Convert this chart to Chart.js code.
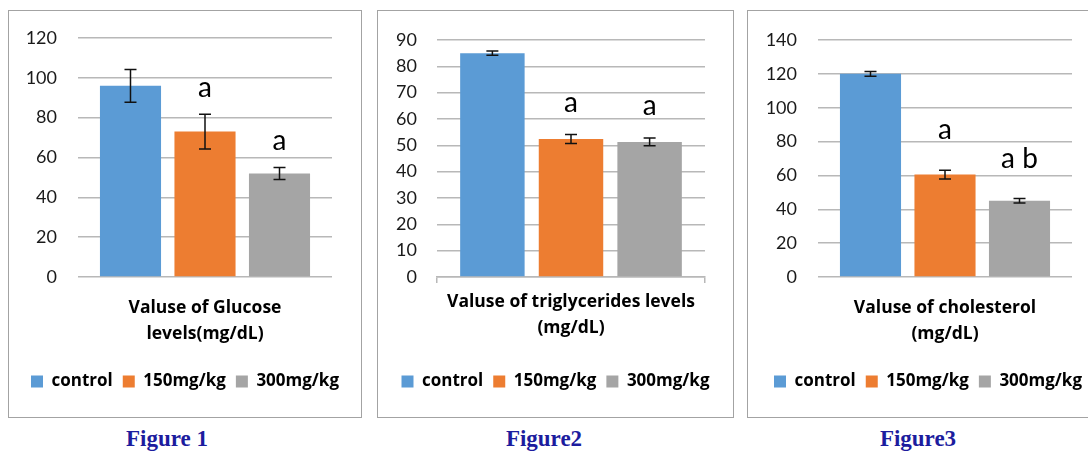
<!DOCTYPE html>
<html>
<head>
<meta charset="utf-8">
<script src="https://cdn.jsdelivr.net/npm/chart.js@4/dist/chart.umd.min.js"></script>
<style>
  body { margin: 0; width: 1088px; height: 451px; overflow: hidden; background: #fff; position: relative; }
  .panel { position: absolute; top: 10px; height: 406px; border: 1px solid #a3a3a3; }
  .panel canvas { display: block; }
  .cap { position: absolute; top: 426px; width: 200px; text-align: center;
         font: bold 23px "Liberation Serif", "DejaVu Serif", serif; color: #1c1c9e; line-height: 26px; }
</style>
</head>
<body>
<div class="panel" style="left:8px; width:352px;"><canvas id="glucose" width="352" height="406"></canvas></div>
<div class="panel" style="left:377px; width:355px;"><canvas id="trig" width="355" height="406"></canvas></div>
<div class="panel" style="left:747px; width:360px;"><canvas id="chol" width="360" height="406"></canvas></div>
<div class="cap" style="left:67px;">Figure 1</div>
<div class="cap" style="left:444px;">Figure2</div>
<div class="cap" style="left:818px;">Figure3</div>

<script>
// groups (legend)
const groups = ['control', '150mg/kg', '300mg/kg'];
const groupColors = ['#5B9BD5', '#ED7D31', '#A5A5A5'];

// figure 1 - glucose
const glucoseLabel = ['Valuse of Glucose', 'levels(mg/dL)'];
const glucoseMeans = [96, 73, 52];
const glucoseErrors = [8.2, 8.7, 3];
const glucoseLetters = ['', 'a', 'a'];
const glucoseMax = 120, glucoseStep = 20;

// figure 2 - triglycerides
const trigLabel = ['Valuse of triglycerides levels', '(mg/dL)'];
const trigMeans = [85, 52.4, 51.3];
const trigErrors = [0.8, 1.7, 1.5];
const trigLetters = ['', 'a', 'a'];
const trigMax = 90, trigStep = 10;

// figure 3 - cholesterol
const cholLabel = ['Valuse of cholesterol', '(mg/dL)'];
const cholMeans = [120, 60.5, 45];
const cholErrors = [1.4, 2.6, 1.3];
const cholLetters = ['', 'a', 'a b'];
const cholMax = 140, cholStep = 20;

Chart.defaults.font.family = 'Lato, "Open Sans", sans-serif';
Chart.defaults.color = '#111';

const gridColor = '#b8b8b8';
const boldFamily = '"Open Sans", Lato, sans-serif';

// error bars + significance letters
const errorMarks = {
    id: 'errorMarks',
    afterDatasetsDraw(chart, args, opts) {
        const ctx = chart.ctx;
        const y = chart.scales.y;
        ctx.save();
        chart.data.datasets.forEach((ds, i) => {
            const bar = chart.getDatasetMeta(i).data[0];
            const v = ds.data[0];
            const e = opts.errors[i];
            const top = y.getPixelForValue(v + e);
            const bot = y.getPixelForValue(v - e);
            ctx.strokeStyle = '#111';
            ctx.lineWidth = 1.5;
            ctx.beginPath();
            ctx.moveTo(bar.x, top); ctx.lineTo(bar.x, bot);
            ctx.moveTo(bar.x - 6, top); ctx.lineTo(bar.x + 6, top);
            ctx.moveTo(bar.x - 6, bot); ctx.lineTo(bar.x + 6, bot);
            ctx.stroke();
            if (opts.letters[i]) {
                ctx.fillStyle = '#000';
                ctx.font = '28px Lato, "Open Sans", sans-serif';
                ctx.textAlign = 'center';
                ctx.textBaseline = 'middle';
                ctx.fillText(opts.letters[i], bar.x, top - opts.gap);
            }
        });
        ctx.restore();
    }
};

function makeChart(id, label, means, errors, letters, max, step, geo) {
    const datasets = groups.map((g, i) => ({
        label: g,
        data: [means[i]],
        backgroundColor: groupColors[i],
        categoryPercentage: 0.88,
        barPercentage: 0.82
    }));
    return new Chart(document.getElementById(id), {
        type: 'bar',
        data: { labels: [label], datasets: datasets },
        plugins: [errorMarks],
        options: {
            responsive: false,
            animation: false,
            layout: { padding: { top: geo.top, right: 0, bottom: 17, left: 0 } },
            scales: {
                x: {
                    grid: {
                        display: geo.xTicks,
                        drawOnChartArea: false,
                        drawTicks: true,
                        tickLength: 6,
                        color: gridColor,
                        lineWidth: 1.5
                    },
                    border: { display: geo.xTicks, color: gridColor, width: 1.5 },
                    ticks: {
                        padding: geo.xTicks ? 6 : 12,
                        color: '#000',
                        font: { family: boldFamily, size: 17.5, weight: 'bold', lineHeight: '26px' }
                    },
                    afterFit: (s) => { s.height = 86; }
                },
                y: {
                    min: 0,
                    max: max,
                    ticks: { stepSize: step, padding: 0, font: { size: 18 }, color: '#1a1a1a' },
                    grid: {
                        color: gridColor,
                        lineWidth: 1.5,
                        drawTicks: true,
                        tickLength: geo.tickGap,
                        tickColor: 'rgba(0,0,0,0)'
                    },
                    border: { display: false },
                    afterFit: (s) => { s.width = geo.left; }
                },
                // empty right-hand margin of the plot
                margin: {
                    type: 'linear',
                    position: 'right',
                    grid: { display: false },
                    border: { display: false },
                    ticks: { display: false },
                    afterFit: (s) => { s.width = geo.right; }
                }
            },
            plugins: {
                tooltip: { enabled: false },
                legend: {
                    position: 'bottom',
                    labels: {
                        boxWidth: 12,
                        boxHeight: 12,
                        padding: 10,
                        color: '#000',
                        font: { family: boldFamily, size: 17, weight: 'bold' }
                    }
                },
                errorMarks: { errors: errors, letters: letters, gap: geo.gap }
            }
        }
    });
}

makeChart('glucose', glucoseLabel, glucoseMeans, glucoseErrors, glucoseLetters, glucoseMax, glucoseStep,
    { top: 27, right: 29, left: 69, tickGap: 21, gap: 26, xTicks: false });
makeChart('trig', trigLabel, trigMeans, trigErrors, trigLetters, trigMax, trigStep,
    { top: 29, right: 28, left: 59, tickGap: 20, gap: 32, xTicks: true });
makeChart('chol', cholLabel, cholMeans, cholErrors, cholLetters, cholMax, cholStep,
    { top: 29, right: 36, left: 70, tickGap: 21, gap: 40, xTicks: false });
</script>
</body>
</html>
